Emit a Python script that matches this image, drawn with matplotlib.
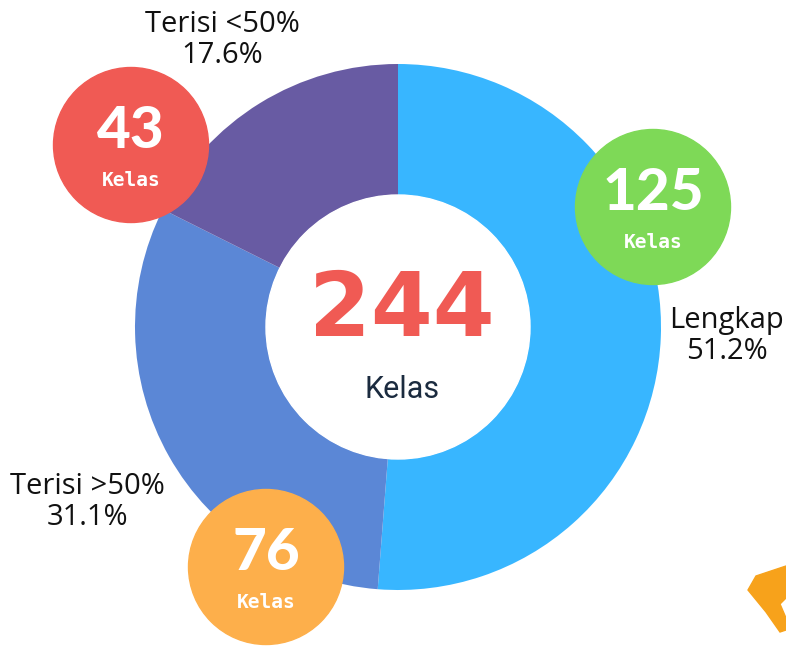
import matplotlib.pyplot as plt
from matplotlib.patches import Circle, Polygon

# data
categories = ["Lengkap", "Terisi >50%", "Terisi <50%"]
counts = [125, 76, 43]
percent_labels = ["51.2%", "31.1%", "17.6%"]
slice_colors = ["#38B6FF", "#5B87D6", "#685BA3"]
badge_colors = ["#7ED957", "#FDAF4B", "#F05A54"]
total = sum(counts)

W, H = 786, 646

def fy(y):
    # image y (from top) -> axes y (from bottom)
    return H - y

fig = plt.figure(figsize=(W / 100, H / 100), dpi=100)
ax = fig.add_axes([0, 0, 1, 1])

cx, cy = 398, 327
ax.pie(counts, colors=slice_colors, startangle=90, counterclock=False,
       center=(cx, fy(cy)), radius=263,
       wedgeprops=dict(width=131, linewidth=0))
ax.add_patch(Circle((cx, fy(cy)), 132, color="white", zorder=3))

ax.text(cx + 4, fy(312), str(total), ha="center", va="center", fontsize=64,
        fontweight="bold", family="DejaVu Sans", color="#F05A54", zorder=4)
ax.text(cx + 4, fy(389), "Kelas", ha="center", va="center", fontsize=22,
        family="Roboto", color="#1B2B3F", zorder=4)

# badges with counts
badge_pos = [(653, 207), (266, 567), (131, 145)]
for (bx, by), n, col in zip(badge_pos, counts, badge_colors):
    ax.add_patch(Circle((bx, fy(by)), 77.5, color=col, zorder=5))
    ax.text(bx, fy(by - 14), str(n), ha="center", va="center", fontsize=42,
            fontweight="black", family="Lato", color="white", zorder=6)
    ax.text(bx, fy(by + 35), "Kelas", ha="center", va="center", fontsize=14,
            fontweight="bold", family="DejaVu Sans Mono", color="white", zorder=6)

# category labels
label_pos = [(727, 336), (87, 502), (222, 40)]
for (lx, ly), cat, pct in zip(label_pos, categories, percent_labels):
    ax.text(lx, fy(ly), cat + "\n" + pct, ha="center", va="center",
            fontsize=21, family="Open Sans", color="#111111", zorder=6,
            linespacing=1.1)

# orange decoration peeking in at the corner
deco = [(748, 590), (756, 576), (786, 566), (786, 598), (780, 604),
        (786, 618), (786, 630), (780, 632), (766, 612)]
ax.add_patch(Polygon([(x, fy(y)) for x, y in deco], closed=True,
                     color="#F7A21B", zorder=2))

ax.set_xlim(0, W)
ax.set_ylim(0, H)
ax.set_aspect("auto")
ax.axis("off")

fig.savefig("out.png", dpi=100)
